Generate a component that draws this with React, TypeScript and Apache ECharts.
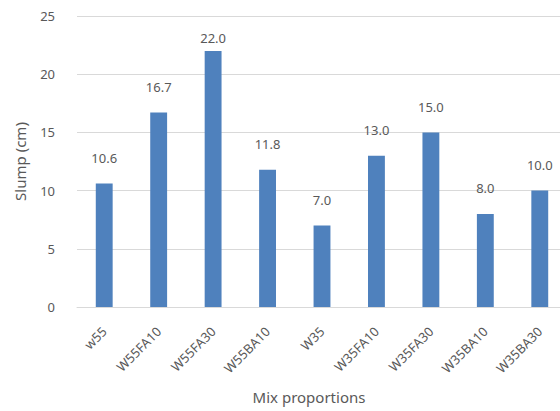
import React, { useEffect, useRef } from "react";
import * as echarts from "echarts";

// Slump measured for each concrete mix
const categories = [
  "w55",
  "W55FA10",
  "W55FA30",
  "W55BA10",
  "W35",
  "W35FA10",
  "W35FA30",
  "W35BA10",
  "W35BA30",
];
const slumpValues = [10.6, 16.7, 22.0, 11.8, 7.0, 13.0, 15.0, 8.0, 10.0];
const yTicks = { min: 0, max: 25, interval: 5 };

const FONT = "'Noto Sans', 'DejaVu Sans', sans-serif";
const TEXT = "#595959";
const GRID = "#d9d9d9";
const BAR = "#4f81bd";

export default function App() {
  const ref = useRef<HTMLDivElement>(null);

  useEffect(() => {
    if (!ref.current) return;
    const chart = echarts.init(ref.current, undefined, { renderer: "svg" });

    // labels near the top of the value range are pulled closer to their bar
    const data = slumpValues.map((v) => ({
      value: v,
      label: { distance: v > yTicks.max - 4 ? 6 : 19 },
    }));

    chart.setOption({
      animation: false,
      textStyle: { fontFamily: FONT },
      grid: { left: 77, right: 13, top: 16, bottom: 104, containLabel: false },
      xAxis: {
        type: "category",
        data: categories,
        axisLine: { show: true, lineStyle: { color: GRID, width: 1 } },
        axisTick: { show: false },
        axisLabel: {
          rotate: 45,
          margin: 22,
          color: TEXT,
          fontSize: 13,
          fontFamily: FONT,
          interval: 0,
        },
      },
      yAxis: {
        type: "value",
        min: yTicks.min,
        max: yTicks.max,
        interval: yTicks.interval,
        name: "Slump (cm)",
        nameLocation: "middle",
        nameGap: 50,
        nameRotate: 90,
        nameTextStyle: { color: TEXT, fontSize: 15, fontFamily: FONT },
        axisLine: { show: false },
        axisTick: { show: false },
        axisLabel: { color: TEXT, fontSize: 13, margin: 22, fontFamily: FONT },
        splitLine: { show: true, lineStyle: { color: GRID, width: 1 } },
      },
      graphic: [
        {
          type: "text",
          x: 309,
          y: 397,
          style: {
            text: "Mix proportions",
            fill: TEXT,
            fontSize: 15,
            fontFamily: FONT,
            textAlign: "center",
            textVerticalAlign: "middle",
          },
        },
      ],
      series: [
        {
          type: "bar",
          data,
          barWidth: "31%",
          itemStyle: { color: BAR },
          label: {
            show: true,
            position: "top",
            color: TEXT,
            fontSize: 13,
            fontFamily: FONT,
            formatter: (p: any) => Number(p.value).toFixed(1),
          },
        },
      ],
    });

    return () => chart.dispose();
  }, []);

  return (
    <div
      ref={ref}
      style={{
        position: "fixed",
        left: 0,
        top: 0,
        width: 580,
        height: 411,
        background: "#ffffff",
      }}
    />
  );
}
